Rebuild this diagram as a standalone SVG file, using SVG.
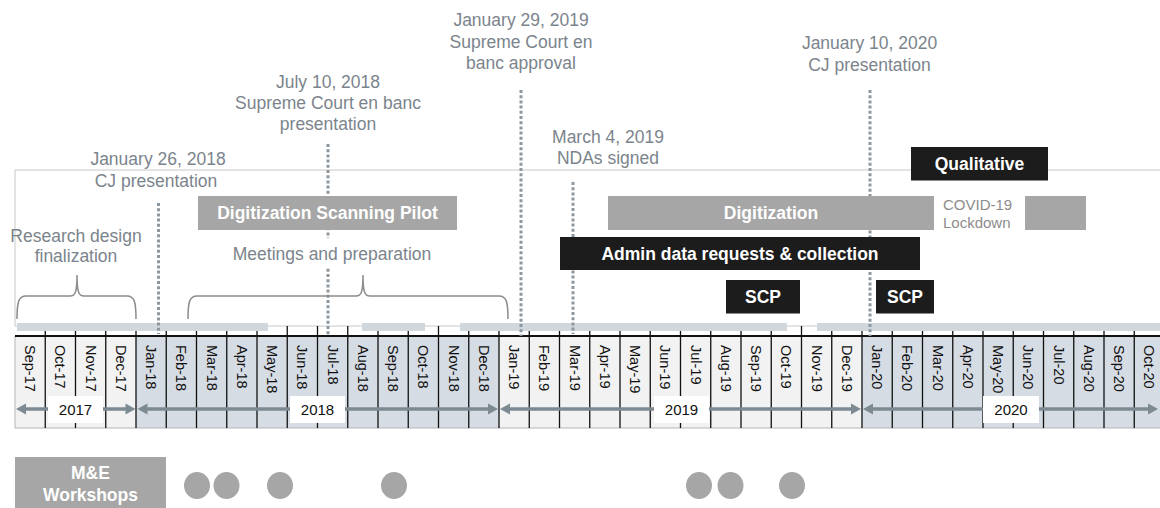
<svg xmlns="http://www.w3.org/2000/svg" width="1160" height="508" viewBox="0 0 1160 508">
<defs>
<style>
.lbl{font-family:"Liberation Sans",Arial,sans-serif;font-size:17.5px;fill:#7b848c;text-anchor:middle}
.btxt{font-family:"Liberation Sans",Arial,sans-serif;font-size:17.5px;font-weight:bold;fill:#ffffff;text-anchor:middle}
.mon{font-family:"Liberation Sans",Arial,sans-serif;font-size:14.5px;fill:#111111}
.yr{font-family:"Liberation Sans",Arial,sans-serif;font-size:15px;fill:#111111;text-anchor:middle}
.dot{stroke:#8c979f;stroke-width:3;stroke-dasharray:3 2.2;fill:none}
.brace{stroke:#8c8c8c;stroke-width:1.5;fill:none}
.gbox{fill:#a6a6a6}
.kbox{fill:#1c1c1c}
.lbar{fill:#d0d8dd}
.arr{stroke:#7d8a92;stroke-width:3.5}
.arh{fill:#7d8a92}
.circ{fill:#a6a6a6}
</style>
</defs>
<rect width="1160" height="508" fill="#ffffff"/>

<!-- frame -->
<g id="frame">
<path d="M1160,170 H15 V326 H1160" fill="none" stroke="#c8c8c8" stroke-width="1"/>
</g>

<!-- timeline strip -->
<g id="timeline">
<rect x="15" y="336" width="121" height="92" fill="#f2f2f2"/>
<rect x="136" y="336" width="363" height="92" fill="#d6dce4"/>
<rect x="499" y="336" width="363" height="92" fill="#f2f2f2"/>
<rect x="862" y="336" width="298" height="92" fill="#d6dce4"/>
<path d="M15,336 V428 H1160" fill="none" stroke="#b5b5b5" stroke-width="1"/>
<path d="M45.25,326V428M75.5,326V428M105.75,326V428M136,326V428M166.25,326V428M196.5,326V428M226.75,326V428M257,326V428M287.25,326V428M317.5,326V428M347.75,326V428M378,326V428M408.25,326V428M438.5,326V428M468.75,326V428M499,326V428M529.25,326V428M559.5,326V428M589.75,326V428M620,326V428M650.25,326V428M680.5,326V428M710.75,326V428M741,326V428M771.25,326V428M801.5,326V428M831.75,326V428M862,326V428M892.25,326V428M922.5,326V428M952.75,326V428M983,326V428M1013.25,326V428M1043.5,326V428M1073.75,326V428M1104,326V428M1134.25,326V428" stroke="#111111" stroke-width="1.3" fill="none"/>
<line x1="15" y1="336" x2="1160" y2="336" stroke="#111111" stroke-width="2"/>
<g class="mon">
<text transform="translate(25.1 345) rotate(90)">Sep-17</text>
<text transform="translate(55.4 345) rotate(90)">Oct-17</text>
<text transform="translate(85.6 345) rotate(90)">Nov-17</text>
<text transform="translate(115.9 345) rotate(90)">Dec-17</text>
<text transform="translate(146.1 345) rotate(90)">Jan-18</text>
<text transform="translate(176.4 345) rotate(90)">Feb-18</text>
<text transform="translate(206.6 345) rotate(90)">Mar-18</text>
<text transform="translate(236.9 345) rotate(90)">Apr-18</text>
<text transform="translate(267.1 345) rotate(90)">May-18</text>
<text transform="translate(297.4 345) rotate(90)">Jun-18</text>
<text transform="translate(327.6 345) rotate(90)">Jul-18</text>
<text transform="translate(357.9 345) rotate(90)">Aug-18</text>
<text transform="translate(388.1 345) rotate(90)">Sep-18</text>
<text transform="translate(418.4 345) rotate(90)">Oct-18</text>
<text transform="translate(448.6 345) rotate(90)">Nov-18</text>
<text transform="translate(478.9 345) rotate(90)">Dec-18</text>
<text transform="translate(509.1 345) rotate(90)">Jan-19</text>
<text transform="translate(539.4 345) rotate(90)">Feb-19</text>
<text transform="translate(569.6 345) rotate(90)">Mar-19</text>
<text transform="translate(599.9 345) rotate(90)">Apr-19</text>
<text transform="translate(630.1 345) rotate(90)">May-19</text>
<text transform="translate(660.4 345) rotate(90)">Jun-19</text>
<text transform="translate(690.6 345) rotate(90)">Jul-19</text>
<text transform="translate(720.9 345) rotate(90)">Aug-19</text>
<text transform="translate(751.1 345) rotate(90)">Sep-19</text>
<text transform="translate(781.4 345) rotate(90)">Oct-19</text>
<text transform="translate(811.6 345) rotate(90)">Nov-19</text>
<text transform="translate(841.9 345) rotate(90)">Dec-19</text>
<text transform="translate(872.1 345) rotate(90)">Jan-20</text>
<text transform="translate(902.4 345) rotate(90)">Feb-20</text>
<text transform="translate(932.6 345) rotate(90)">Mar-20</text>
<text transform="translate(962.9 345) rotate(90)">Apr-20</text>
<text transform="translate(993.1 345) rotate(90)">May-20</text>
<text transform="translate(1023.4 345) rotate(90)">Jun-20</text>
<text transform="translate(1053.6 345) rotate(90)">Jul-20</text>
<text transform="translate(1083.9 345) rotate(90)">Aug-20</text>
<text transform="translate(1114.1 345) rotate(90)">Sep-20</text>
<text transform="translate(1144.4 345) rotate(90)">Oct-20</text>
</g>
</g>

<!-- year arrows -->
<g id="years">
<line class="arr" x1="25" y1="409" x2="126" y2="409"/>
<polygon class="arh" points="16,409 26,403.5 26,414.5"/>
<polygon class="arh" points="135.5,409 125.5,403.5 125.5,414.5"/>
<line class="arr" x1="147" y1="409" x2="488" y2="409"/>
<polygon class="arh" points="137.5,409 147.5,403.5 147.5,414.5"/>
<polygon class="arh" points="498,409 488,403.5 488,414.5"/>
<line class="arr" x1="509" y1="409" x2="851" y2="409"/>
<polygon class="arh" points="500,409 510,403.5 510,414.5"/>
<polygon class="arh" points="861,409 851,403.5 851,414.5"/>
<line class="arr" x1="872" y1="409" x2="1148" y2="409"/>
<polygon class="arh" points="863,409 873,403.5 873,414.5"/>
<polygon class="arh" points="1158,409 1148,403.5 1148,414.5"/>
<rect x="48" y="396" width="55" height="27" fill="#ffffff"/>
<text class="yr" x="75.5" y="415">2017</text>
<rect x="290" y="396" width="55" height="27" fill="#ffffff"/>
<text class="yr" x="317.5" y="415">2018</text>
<rect x="654" y="396" width="55" height="27" fill="#ffffff"/>
<text class="yr" x="681.5" y="415">2019</text>
<rect x="983" y="396" width="56" height="27" fill="#ffffff"/>
<text class="yr" x="1011" y="415">2020</text>
</g>

<!-- light activity bars -->
<g id="lightbars">
<rect class="lbar" x="17" y="323" width="251" height="8"/>
<rect class="lbar" x="362" y="323" width="63" height="8"/>
<rect class="lbar" x="460" y="323" width="327" height="8"/>
<rect class="lbar" x="817" y="323" width="343" height="8"/>
</g>

<!-- connectors: milestone dotted lines and braces -->
<g id="connectors">
<line class="dot" x1="158.5" y1="203" x2="158.5" y2="334"/>
<line class="dot" x1="328" y1="144" x2="328" y2="336"/>
<line class="dot" x1="521" y1="90" x2="521" y2="336"/>
<line class="dot" x1="573" y1="182" x2="573" y2="334"/>
<line class="dot" x1="870" y1="90" x2="870" y2="336"/>
<path class="brace" d="M17,319 C17,302 18.5,296 26,296 L70,296 C75,296 77,293 77,275 C77,293 79,296 84,296 L127,296 C134.5,296 136,302 136,319"/>
<path class="brace" d="M188,319 C188,302 189.5,296 197,296 L356,296 C361,296 363,293 363,275 C363,293 365,296 370,296 L499,296 C506.5,296 508,302 508,319"/>
</g>

<!-- milestone labels -->
<g id="m-jan2018">
<text class="lbl" x="158" y="165">January 26, 2018</text>
<text class="lbl" x="156" y="187">CJ presentation</text>
</g>
<g id="m-jul2018">
<text class="lbl" x="328" y="88">July 10, 2018</text>
<text class="lbl" x="328" y="109">Supreme Court en banc</text>
<text class="lbl" x="328" y="130">presentation</text>
</g>
<g id="m-jan2019">
<text class="lbl" x="521" y="26">January 29, 2019</text>
<text class="lbl" x="521" y="47.5">Supreme Court en</text>
<text class="lbl" x="521" y="69">banc approval</text>
</g>
<g id="m-mar2019">
<text class="lbl" x="608" y="142.5">March 4, 2019</text>
<text class="lbl" x="608" y="164">NDAs signed</text>
</g>
<g id="m-jan2020">
<text class="lbl" x="869.5" y="49">January 10, 2020</text>
<text class="lbl" x="869.5" y="70.5">CJ presentation</text>
</g>

<!-- activities -->
<g id="research">
<text class="lbl" x="76" y="242">Research design</text>
<text class="lbl" x="76" y="262">finalization</text>
</g>
<g id="meetings">
<rect x="228" y="238" width="210" height="30" fill="#ffffff"/>
<text class="lbl" x="332" y="260">Meetings and preparation</text>
</g>
<g id="pilot">
<rect class="gbox" x="198" y="196" width="259" height="34"/>
<text class="btxt" x="327.5" y="219">Digitization Scanning Pilot</text>
</g>
<g id="qualitative">
<rect class="kbox" x="911" y="147" width="137" height="33.5"/>
<text class="btxt" x="979.5" y="170">Qualitative</text>
</g>
<g id="digitization">
<rect class="gbox" x="608" y="196" width="326" height="34"/>
<text class="btxt" x="771" y="219">Digitization</text>
</g>
<g id="covid">
<text x="943" y="209.5" style="font-family:'Liberation Sans',Arial,sans-serif;font-size:15px;fill:#8c8c8c">COVID-19</text>
<text x="943" y="228" style="font-family:'Liberation Sans',Arial,sans-serif;font-size:15px;fill:#8c8c8c">Lockdown</text>
<rect class="gbox" x="1025" y="196" width="61" height="34"/>
</g>
<g id="admin">
<rect class="kbox" x="560" y="237" width="360" height="33"/>
<text class="btxt" x="740" y="260">Admin data requests &amp; collection</text>
</g>
<g id="scp1">
<rect class="kbox" x="726" y="280" width="74" height="33.5"/>
<text class="btxt" x="763" y="303">SCP</text>
</g>
<g id="scp2">
<rect class="kbox" x="876" y="280" width="58" height="33.5"/>
<text class="btxt" x="905" y="303">SCP</text>
</g>

<!-- M&E workshops -->
<g id="workshops">
<rect class="gbox" x="15" y="457" width="151" height="51"/>
<text class="btxt" x="90.5" y="479">M&amp;E</text>
<text class="btxt" x="90.5" y="501">Workshops</text>
</g>
<g id="workshop-dots">
<ellipse class="circ" cx="197" cy="485.5" rx="13" ry="13.5"/>
<ellipse class="circ" cx="226.5" cy="485.5" rx="13" ry="13.5"/>
<ellipse class="circ" cx="280" cy="485.5" rx="13" ry="13.5"/>
<ellipse class="circ" cx="394" cy="485.5" rx="13" ry="13.5"/>
<ellipse class="circ" cx="699" cy="485.5" rx="13" ry="13.5"/>
<ellipse class="circ" cx="730.5" cy="485.5" rx="13" ry="13.5"/>
<ellipse class="circ" cx="792" cy="485.5" rx="13" ry="13.5"/>
</g>
</svg>
